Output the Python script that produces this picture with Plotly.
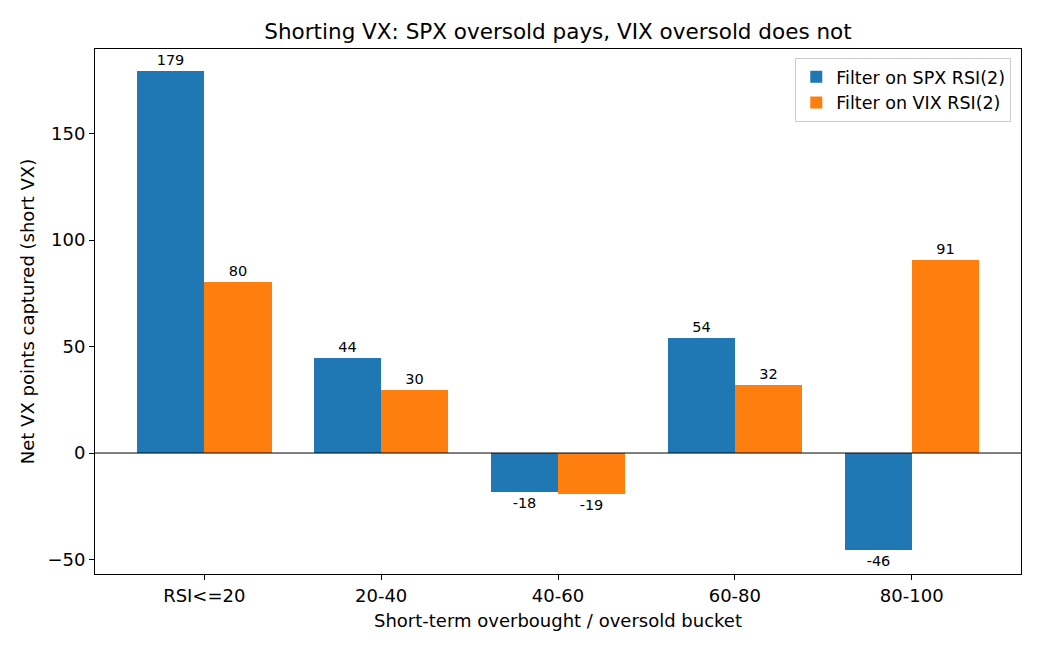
import plotly.graph_objects as go

categories = ["RSI<=20", "20-40", "40-60", "60-80", "80-100"]
spx_values = [179.2, 44.4, -18.2, 54.1, -45.6]
vix_values = [80.3, 29.7, -19.2, 32.0, 90.7]
y_ticks = [-50, 0, 50, 100, 150]
y_tick_labels = ["\u221250", "0", "50", "100", "150"]

W = 0.38
idx = list(range(len(categories)))
font = "DejaVu Sans"

fig = go.Figure()
fig.add_trace(go.Bar(
    x=[i - W / 2 for i in idx], y=spx_values, width=W,
    name="Filter on SPX RSI(2)", marker=dict(color="#1f77b4", line=dict(width=0)),
    texttemplate="%{y:.0f}", textposition="outside",
    textfont=dict(size=14.5, color="black", family=font), cliponaxis=False,
))
fig.add_trace(go.Bar(
    x=[i + W / 2 for i in idx], y=vix_values, width=W,
    name="Filter on VIX RSI(2)", marker=dict(color="#ff7f0e", line=dict(width=0)),
    texttemplate="%{y:.0f}", textposition="outside",
    textfont=dict(size=14.5, color="black", family=font), cliponaxis=False,
))
fig.add_hline(y=0, line=dict(color="black", width=1))

fig.update_layout(
    width=1040, height=650,
    margin=dict(l=95, r=19, t=49, b=76),
    plot_bgcolor="white", paper_bgcolor="white",
    font=dict(family=font, size=18, color="black"),
    barmode="overlay",
    title=dict(text="Shorting VX: SPX oversold pays, VIX oversold does not",
               x=0.5, xref="paper", xanchor="center",
               y=1 - 31 / 650, yref="container", yanchor="middle",
               font=dict(size=21.5, family=font, color="black")),
    showlegend=True,
    legend=dict(x=0.9895, y=0.983, xanchor="right", yanchor="top",
                bordercolor="#cccccc", borderwidth=1, bgcolor="rgba(255,255,255,0.8)",
                font=dict(size=17.5, family=font), tracegroupgap=0),
    bargap=0,
)
fig.update_xaxes(
    range=[-0.618, 4.618], tickmode="array", tickvals=idx, ticktext=categories,
    showgrid=False, zeroline=False, showline=True, linecolor="black", linewidth=1,
    mirror=True, ticks="outside", ticklen=5, tickcolor="black",
    tickfont=dict(size=18), title=dict(text="Short-term overbought / oversold bucket",
                                        font=dict(size=18), standoff=9),
)
fig.update_yaxes(
    range=[-56.8, 189.7], tickmode="array", tickvals=y_ticks, ticktext=y_tick_labels,
    showgrid=False, zeroline=False, showline=True, linecolor="black", linewidth=1,
    mirror=True, ticks="outside", ticklen=5, tickcolor="black",
    tickfont=dict(size=18), title=dict(text="Net VX points captured (short VX)",
                                        font=dict(size=18), standoff=8),
)

fig.write_html("out.html")
